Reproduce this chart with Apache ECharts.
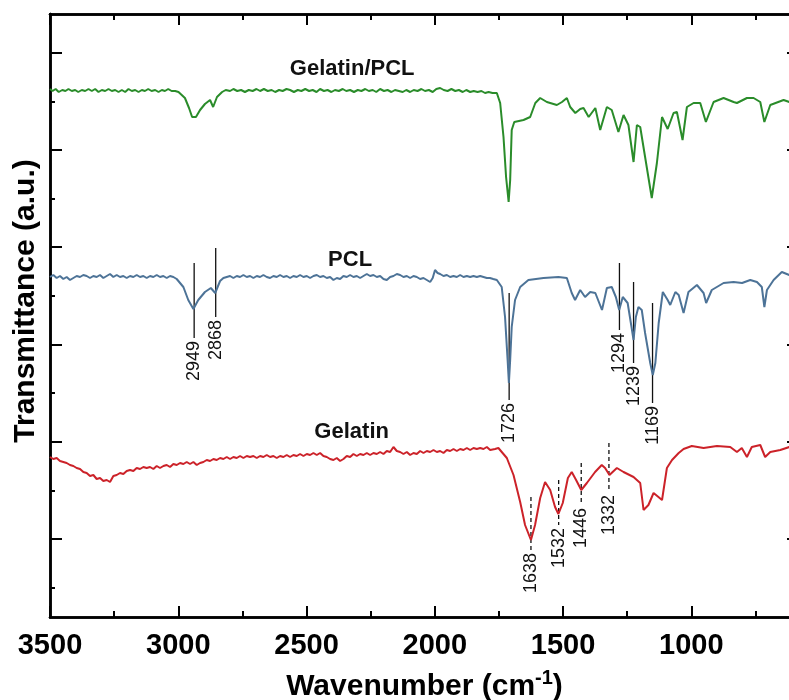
<!DOCTYPE html>
<html>
<head>
<meta charset="utf-8">
<script src="https://cdn.jsdelivr.net/npm/echarts@6/dist/echarts.min.js"></script>
<style>
  html, body { margin: 0; padding: 0; background: #fff; }
  #ftir { width: 789px; height: 700px; }
</style>
</head>
<body>
<div id="ftir"></div>
<script>
// spectra: [wavenumber (cm-1), transmittance (a.u., stacked)]
var gelatinPcl = [[3500,528],[3490,526],[3478,528],[3466,525],[3452,527],[3440,526],[3428,528],[3415,526],[3402,527],[3390,525],[3376,527],[3363,526],[3350,528],[3337,526],[3324,528],[3311,525],[3298,527],[3285,526],[3272,528],[3259,526],[3246,527],[3233,525],[3220,527],[3207,525],[3194,528],[3181,526],[3168,527],[3155,525],[3142,527],[3130,526],[3117,528],[3104,526],[3090,527],[3077,525],[3064,527],[3052,526],[3039,528],[3026,526],[3012,526],[2999,525],[2993,524],[2974,519],[2958,509],[2946,500],[2931,500],[2915,507],[2896,513],[2876,517],[2864,510],[2849,520],[2829,525],[2815,527],[2798,526],[2785,528],[2770,526],[2755,527],[2740,525],[2725,527],[2710,526],[2695,528],[2681,526],[2666,528],[2651,526],[2636,527],[2622,525],[2607,527],[2593,526],[2578,528],[2564,527],[2549,525],[2534,527],[2520,526],[2505,528],[2490,526],[2476,527],[2461,525],[2447,528],[2432,526],[2418,527],[2403,525],[2389,527],[2374,526],[2359,528],[2345,526],[2330,527],[2315,525],[2300,527],[2286,526],[2271,528],[2257,526],[2242,527],[2228,525],[2213,528],[2198,526],[2184,527],[2169,525],[2155,527],[2140,526],[2125,525],[2111,527],[2096,525],[2082,527],[2067,526],[2052,528],[2038,526],[2023,527],[2008,525],[1994,528],[1979,529],[1965,527],[1950,526],[1935,528],[1920,526],[1906,527],[1891,525],[1877,527],[1862,525],[1848,526],[1833,525],[1818,526],[1804,524],[1790,525],[1775,524],[1758,524],[1745,514],[1732,480],[1722,440],[1712,415],[1706,437],[1700,487],[1690,495],[1654,497],[1628,500],[1608,514],[1589,519],[1563,515],[1524,512],[1504,515],[1485,519],[1472,510],[1452,504],[1433,508],[1420,509],[1400,500],[1374,509],[1355,487],[1329,510],[1310,507],[1284,485],[1264,502],[1245,492],[1225,455],[1212,492],[1199,490],[1180,460],[1154,419],[1134,454],[1114,500],[1092,488],[1069,504],[1056,505],[1034,477],[1017,510],[991,514],[965,514],[943,495],[913,515],[874,519],[835,515],[822,514],[783,519],[757,519],[731,515],[715,495],[692,512],[640,517],[618,515],[580,516]];

var pcl = [[3500,340],[3487,342],[3474,339],[3461,341],[3448,338],[3435,340],[3422,337],[3409,339],[3396,341],[3383,340],[3370,342],[3357,341],[3344,339],[3331,341],[3318,340],[3305,342],[3292,339],[3279,341],[3266,343],[3253,340],[3240,342],[3227,340],[3214,341],[3201,339],[3188,341],[3175,340],[3162,342],[3149,340],[3136,341],[3123,339],[3110,341],[3097,340],[3084,342],[3071,340],[3058,341],[3045,339],[3032,341],[3019,340],[3006,338],[2980,330],[2961,317],[2941,308],[2922,317],[2896,325],[2873,329],[2856,324],[2837,336],[2824,339],[2811,340],[2798,341],[2785,339],[2772,341],[2759,340],[2746,342],[2733,340],[2720,341],[2707,339],[2694,341],[2681,340],[2668,342],[2655,340],[2642,339],[2629,341],[2616,340],[2603,342],[2590,340],[2577,341],[2564,339],[2551,341],[2538,340],[2525,342],[2512,340],[2499,341],[2486,339],[2473,341],[2460,342],[2447,340],[2434,341],[2421,339],[2408,340],[2395,337],[2382,339],[2369,338],[2356,341],[2343,340],[2330,342],[2317,340],[2304,341],[2291,339],[2278,341],[2265,343],[2252,341],[2239,342],[2226,340],[2213,341],[2200,338],[2187,337],[2174,340],[2161,341],[2148,343],[2135,342],[2122,340],[2109,341],[2096,339],[2083,341],[2070,340],[2057,338],[2044,339],[2031,337],[2018,335],[2008,339],[1999,347],[1989,344],[1979,343],[1966,341],[1953,342],[1940,340],[1927,341],[1914,340],[1901,342],[1888,340],[1875,341],[1862,340],[1849,341],[1836,340],[1823,341],[1810,340],[1797,339],[1785,339],[1772,338],[1758,337],[1739,330],[1726,300],[1716,257],[1711,234],[1706,257],[1700,290],[1687,317],[1667,330],[1635,337],[1576,339],[1518,340],[1485,339],[1466,324],[1453,317],[1433,327],[1414,320],[1394,325],[1374,324],[1348,307],[1329,329],[1310,330],[1294,320],[1281,307],[1267,320],[1248,314],[1233,290],[1225,277],[1216,300],[1206,310],[1193,307],[1180,284],[1160,254],[1150,242],[1140,254],[1127,294],[1111,325],[1092,317],[1082,312],[1062,325],[1049,322],[1030,304],[1011,325],[978,332],[952,324],[942,314],[920,327],[874,334],[835,335],[802,334],[770,337],[744,335],[725,330],[715,310],[705,327],[679,337],[647,345],[618,342],[580,343]];

var gelatin = [[3500,160],[3487,158],[3474,159],[3461,156],[3448,155],[3435,154],[3422,152],[3409,151],[3396,149],[3383,148],[3370,145],[3357,144],[3344,141],[3331,142],[3318,138],[3305,139],[3292,136],[3279,137],[3266,135],[3253,141],[3240,142],[3227,144],[3214,143],[3201,146],[3188,147],[3175,146],[3162,149],[3149,148],[3136,150],[3123,149],[3110,150],[3097,148],[3084,151],[3071,149],[3058,151],[3045,152],[3032,150],[3019,153],[3006,152],[2993,154],[2980,153],[2967,155],[2954,153],[2941,155],[2928,152],[2915,154],[2902,155],[2889,157],[2876,156],[2863,158],[2850,157],[2837,159],[2824,158],[2811,160],[2798,158],[2785,160],[2772,159],[2759,161],[2746,159],[2733,161],[2720,160],[2707,161],[2694,159],[2681,161],[2668,160],[2655,162],[2642,160],[2629,161],[2616,159],[2603,161],[2590,160],[2577,162],[2564,160],[2551,162],[2538,161],[2525,163],[2512,161],[2499,163],[2486,162],[2473,164],[2460,162],[2447,164],[2434,161],[2421,160],[2408,158],[2395,157],[2382,159],[2369,156],[2356,158],[2343,161],[2330,160],[2317,163],[2304,161],[2291,163],[2278,162],[2265,164],[2252,162],[2239,164],[2226,163],[2213,165],[2200,163],[2187,166],[2174,165],[2161,170],[2148,166],[2135,165],[2122,163],[2109,165],[2096,162],[2083,164],[2070,163],[2057,166],[2044,164],[2031,166],[2018,165],[2005,167],[1992,165],[1979,166],[1966,164],[1953,167],[1940,166],[1927,168],[1914,166],[1901,168],[1888,167],[1875,169],[1862,167],[1849,169],[1836,168],[1823,169],[1810,168],[1797,170],[1784,167],[1778,165],[1765,168],[1752,169],[1745,167],[1719,159],[1693,142],[1667,115],[1648,92],[1625,77],[1609,92],[1589,119],[1570,135],[1550,127],[1531,110],[1518,103],[1501,114],[1481,139],[1466,145],[1449,137],[1429,127],[1407,134],[1375,145],[1349,152],[1336,149],[1319,142],[1290,149],[1264,145],[1225,140],[1199,134],[1186,107],[1167,112],[1147,124],[1128,120],[1114,117],[1095,149],[1075,157],[1049,164],[1030,168],[998,171],[952,169],[900,171],[848,170],[822,165],[803,169],[783,160],[764,170],[731,172],[712,160],[692,165],[653,167],[618,170],[580,171]];

// peak marks
var pclPeakText = ['2949', '2868', '1726', '1294', '1239', '1169'];
var pclPeakWn = [2938, 2854, 1710, 1280, 1225, 1151];
var pclPeakTop = [354, 369, 324, 354, 335, 314];
var pclPeakBottom = [279, 300, 217, 287, 254, 214];

var gelPeakText = ['1638', '1532', '1446', '1332'];
var gelPeakWn = [1625, 1517, 1429, 1321];
var gelPeakTop = [120, 137, 154, 174];
var gelPeakBottom = [67, 92, 112, 125];

// curve names
var curveNames = ['Gelatin/PCL', 'PCL', 'Gelatin'];
var curveNameWn = [2322, 2330, 2324];
var curveNameVal = [548, 357, 185];

// ticks
var xMajor = [3500, 3000, 2500, 2000, 1500, 1000];
var xMinor = [3250, 2750, 2250, 1750, 1250, 750];
var yMajor = [78, 175, 272, 370, 467, 564];
var yMinor = [29, 126, 224, 321, 418, 515];

var FONT = '"Liberation Sans", Arial, sans-serif';
var myChart = echarts.init(document.getElementById('ftir'));

function peakData(wn, top, bottom) {
    var out = [];
    wn.forEach(function (w, i) { out.push([w, top[i], bottom[i]]); });
    return out;
}

function peakSeries(wn, top, bottom, texts, dashed) {
    return {
        type: 'custom',
        silent: true,
        data: peakData(wn, top, bottom),
        encode: { x: 0, y: [1, 2] },
        renderItem: function (params, api) {
            var p1 = api.coord([api.value(0), api.value(1)]);
            var p2 = api.coord([api.value(0), api.value(2)]);
            return {
                type: 'group',
                children: [{
                    type: 'line',
                    shape: { x1: p1[0], y1: p1[1], x2: p2[0], y2: p2[1] },
                    style: { stroke: '#111', lineWidth: 1.3, lineDash: dashed ? [4, 3] : null }
                }, {
                    type: 'text',
                    x: p2[0],
                    y: p2[1] + 3,
                    rotation: Math.PI / 2,
                    style: {
                        text: texts[params.dataIndex],
                        align: 'right',
                        verticalAlign: 'middle',
                        font: '18px ' + FONT,
                        fill: '#111'
                    }
                }]
            };
        }
    };
}

function xAxisOf(pos, ticks, len, labels) {
    return {
        type: 'value', position: pos, inverse: true, min: 580, max: 3500,
        axisLine: { show: true, onZero: false, lineStyle: { color: '#000', width: 2.5 } },
        axisTick: { show: true, inside: true, length: len, customValues: ticks, lineStyle: { color: '#000', width: 2 } },
        axisLabel: labels ? {
            show: true, customValues: ticks, margin: 14, color: '#000',
            fontSize: 29, fontWeight: 'bold', fontFamily: FONT,
            formatter: function (v) { return String(v); }
        } : { show: false },
        splitLine: { show: false }
    };
}

function yAxisOf(pos, ticks, len) {
    return {
        type: 'value', position: pos, min: 0, max: 603,
        axisLine: { show: true, onZero: false, lineStyle: { color: '#000', width: 2.5 } },
        axisTick: { show: true, inside: true, length: len, customValues: ticks, lineStyle: { color: '#000', width: 2 } },
        axisLabel: { show: false },
        splitLine: { show: false }
    };
}

var option = {
    animation: false,
    backgroundColor: '#fff',
    grid: { left: 50, top: 14, right: -10, bottom: 83, containLabel: false, outerBoundsMode: 'none' },
    xAxis: [
        Object.assign(xAxisOf('bottom', xMajor, 11, true), {
            name: '{a|Wavenumber (cm}{b|-1}{a|)}',
            nameLocation: 'middle',
            nameGap: 51,
            nameTextStyle: {
                rich: {
                    a: { fontSize: 30, fontWeight: 'bold', fontFamily: FONT, color: '#000', lineHeight: 34, verticalAlign: 'bottom' },
                    b: { fontSize: 20, fontWeight: 'bold', fontFamily: FONT, color: '#000', lineHeight: 34, verticalAlign: 'top' }
                }
            }
        }),
        xAxisOf('bottom', xMinor, 6, false),
        xAxisOf('top', xMajor, 11, false),
        xAxisOf('top', xMinor, 6, false)
    ],
    yAxis: [
        yAxisOf('left', yMajor, 12),
        yAxisOf('left', yMinor, 5),
        yAxisOf('right', yMajor, 12),
        yAxisOf('right', yMinor, 5)
    ],
    graphic: [{
        type: 'text',
        x: 26, y: 301,
        rotation: Math.PI / 2,
        style: {
            text: 'Transmittance (a.u.)',
            align: 'center', verticalAlign: 'middle',
            font: 'bold 30px ' + FONT, fill: '#000'
        }
    }],
    series: [
        { name: 'Gelatin/PCL', type: 'line', data: gelatinPcl, showSymbol: false, lineStyle: { color: '#2a8c2a', width: 2 }, itemStyle: { color: '#2a8c2a' } },
        { name: 'PCL', type: 'line', data: pcl, showSymbol: false, lineStyle: { color: '#4d7397', width: 2 }, itemStyle: { color: '#4d7397' } },
        { name: 'Gelatin', type: 'line', data: gelatin, showSymbol: false, lineStyle: { color: '#cc2229', width: 2 }, itemStyle: { color: '#cc2229' } },
        peakSeries(pclPeakWn, pclPeakTop, pclPeakBottom, pclPeakText, false),
        peakSeries(gelPeakWn, gelPeakTop, gelPeakBottom, gelPeakText, true),
        {
            type: 'custom',
            silent: true,
            data: curveNameWn.map(function (w, i) { return [w, curveNameVal[i]]; }),
            renderItem: function (params, api) {
                var p = api.coord([api.value(0), api.value(1)]);
                return {
                    type: 'text', x: p[0], y: p[1],
                    style: {
                        text: curveNames[params.dataIndex],
                        align: 'center', verticalAlign: 'middle',
                        font: 'bold 22px ' + FONT, fill: '#111'
                    }
                };
            }
        }
    ]
};
myChart.setOption(option);
</script>
</body>
</html>
